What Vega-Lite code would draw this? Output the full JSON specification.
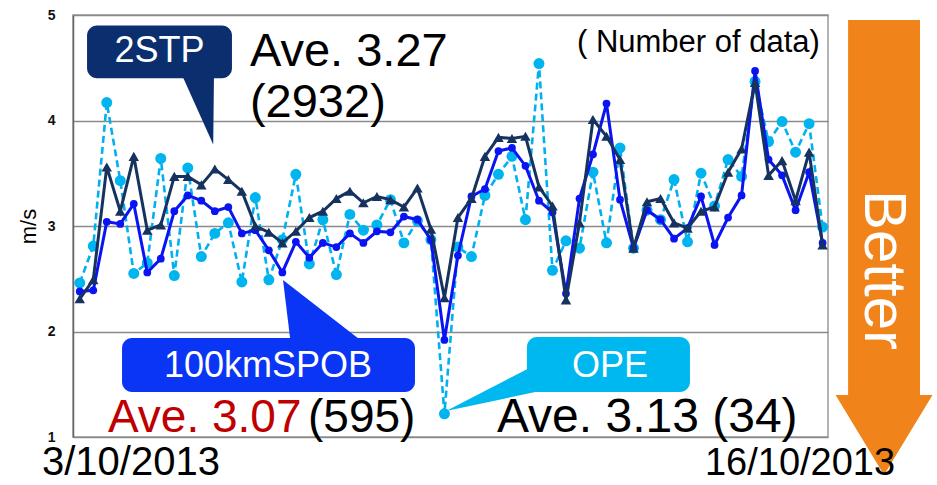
{
  "$schema": "https://vega.github.io/schema/vega-lite/v6.json",
  "width": 755,
  "height": 422,
  "autosize": "none",
  "padding": {"left": 73, "top": 15, "right": 109, "bottom": 48},
  "background": "white",
  "config": {
    "font": "Liberation Sans",
    "view": {"stroke": "#9a9a9a", "strokeWidth": 1.5}
  },
  "resolve": {"axis": {"x": "independent", "y": "independent"}},
  "datasets": {
    "wind": [
      {"step": 0, "stp": 2.31, "spob": 2.38, "ope": 2.46},
      {"step": 1, "stp": 2.49, "spob": 2.39, "ope": 2.81},
      {"step": 2, "stp": 3.56, "spob": 3.04, "ope": 4.17},
      {"step": 3, "stp": 3.14, "spob": 3.02, "ope": 3.43},
      {"step": 4, "stp": 3.66, "spob": 3.21, "ope": 2.55},
      {"step": 5, "stp": 2.96, "spob": 2.56, "ope": 2.65},
      {"step": 6, "stp": 3.01, "spob": 2.69, "ope": 3.64},
      {"step": 7, "stp": 3.47, "spob": 3.14, "ope": 2.53},
      {"step": 8, "stp": 3.47, "spob": 3.29, "ope": 3.55},
      {"step": 9, "stp": 3.39, "spob": 3.24, "ope": 2.71},
      {"step": 10, "stp": 3.54, "spob": 3.14, "ope": 2.93},
      {"step": 11, "stp": 3.44, "spob": 3.18, "ope": 3.03},
      {"step": 12, "stp": 3.33, "spob": 2.93, "ope": 2.47},
      {"step": 13, "stp": 3.00, "spob": 2.96, "ope": 3.27},
      {"step": 14, "stp": 2.94, "spob": 2.77, "ope": 2.49},
      {"step": 15, "stp": 2.84, "spob": 2.56, "ope": 2.87},
      {"step": 16, "stp": 2.95, "spob": 2.85, "ope": 3.49},
      {"step": 17, "stp": 3.08, "spob": 2.70, "ope": 2.64},
      {"step": 18, "stp": 3.14, "spob": 2.84, "ope": 3.06},
      {"step": 19, "stp": 3.26, "spob": 2.80, "ope": 2.54},
      {"step": 20, "stp": 3.33, "spob": 2.93, "ope": 3.11},
      {"step": 21, "stp": 3.22, "spob": 2.84, "ope": 2.96},
      {"step": 22, "stp": 3.28, "spob": 2.95, "ope": 3.01},
      {"step": 23, "stp": 3.25, "spob": 2.94, "ope": 3.25},
      {"step": 24, "stp": 3.18, "spob": 3.09, "ope": 2.84},
      {"step": 25, "stp": 3.36, "spob": 3.06, "ope": 3.05},
      {"step": 26, "stp": 2.97, "spob": 2.87, "ope": 2.87},
      {"step": 27, "stp": 2.32, "spob": 1.92, "ope": 1.22},
      {"step": 28, "stp": 3.08, "spob": 2.72, "ope": 2.80},
      {"step": 29, "stp": 3.26, "spob": 3.28, "ope": 2.71},
      {"step": 30, "stp": 3.66, "spob": 3.35, "ope": 3.29},
      {"step": 31, "stp": 3.84, "spob": 3.71, "ope": 3.49},
      {"step": 32, "stp": 3.83, "spob": 3.74, "ope": 3.66},
      {"step": 33, "stp": 3.85, "spob": 3.57, "ope": 3.06},
      {"step": 34, "stp": 3.37, "spob": 3.24, "ope": 4.54},
      {"step": 35, "stp": 3.19, "spob": 3.13, "ope": 2.58},
      {"step": 36, "stp": 2.30, "spob": 2.36, "ope": 2.86},
      {"step": 37, "stp": 3.03, "spob": 3.26, "ope": 2.79},
      {"step": 38, "stp": 4.01, "spob": 3.68, "ope": 3.51},
      {"step": 39, "stp": 3.85, "spob": 4.16, "ope": 2.84},
      {"step": 40, "stp": 3.63, "spob": 3.25, "ope": 3.74},
      {"step": 41, "stp": 2.79, "spob": 2.79, "ope": 2.79},
      {"step": 42, "stp": 3.23, "spob": 3.15, "ope": 3.15},
      {"step": 43, "stp": 3.26, "spob": 3.06, "ope": 3.06},
      {"step": 44, "stp": 3.03, "spob": 2.88, "ope": 3.44},
      {"step": 45, "stp": 2.98, "spob": 2.98, "ope": 2.85},
      {"step": 46, "stp": 3.14, "spob": 3.28, "ope": 3.50},
      {"step": 47, "stp": 3.18, "spob": 2.82, "ope": 3.19},
      {"step": 48, "stp": 3.51, "spob": 3.08, "ope": 3.63},
      {"step": 49, "stp": 3.73, "spob": 3.29, "ope": 3.47},
      {"step": 50, "stp": 4.36, "spob": 4.47, "ope": 4.37},
      {"step": 51, "stp": 3.48, "spob": 3.63, "ope": 3.80},
      {"step": 52, "stp": 3.62, "spob": 3.48, "ope": 3.99},
      {"step": 53, "stp": 3.24, "spob": 3.15, "ope": 3.70},
      {"step": 54, "stp": 3.70, "spob": 3.51, "ope": 3.97},
      {"step": 55, "stp": 2.82, "spob": 2.84, "ope": 2.99}
    ]
  },
  "layer": [
    {
      "data": {"name": "wind"},
      "mark": {
        "type": "line",
        "color": "#00b0f0",
        "strokeWidth": 2.6,
        "strokeDash": [7, 4],
        "point": {"filled": true, "size": 120, "color": "#00b4f0", "opacity": 1}
      },
      "encoding": {
        "x": {"field": "step", "type": "quantitative", "axis": null,
              "scale": {"domain": [-0.5, 55.4], "nice": false, "zero": false}},
        "y": {"field": "ope", "type": "quantitative",
              "scale": {"domain": [1, 5], "nice": false, "zero": false},
              "axis": {
                "title": "m/s",
                "values": [1, 2, 3, 4, 5],
                "format": "d",
                "titleFontSize": 22,
                "titleFontWeight": "normal",
                "titleColor": "#000000",
                "titleX": -45,
                "titleBaseline": "middle",
                "labelFontSize": 14,
                "labelFontWeight": "bold",
                "labelColor": "#111111",
                "labelPadding": 18,
                "labelFlush": false,
                "ticks": false,
                "domainColor": "#666666",
                "domainWidth": 1.5,
                "grid": true,
                "gridColor": "#8a8a8a",
                "gridWidth": 1.3,
                "encode": {
                  "labels": {"update": {"fontSize": {"value": 14}, "fontWeight": {"value": "bold"}}},
                  "title": {"update": {"fontSize": {"value": 22}, "fontWeight": {"value": "normal"}}}
                }
              }}
      }
    },
    {
      "data": {"name": "wind"},
      "mark": {
        "type": "line",
        "color": "#0a14f2",
        "strokeWidth": 3,
        "point": {"filled": true, "size": 60, "color": "#0a14f2", "opacity": 1}
      },
      "encoding": {
        "x": {"field": "step", "type": "quantitative", "axis": null},
        "y": {"field": "spob", "type": "quantitative", "axis": null}
      }
    },
    {
      "data": {"name": "wind"},
      "mark": {
        "type": "line",
        "color": "#16325f",
        "strokeWidth": 3,
        "point": {"filled": true, "shape": "triangle-up", "size": 110, "color": "#16325f", "opacity": 1}
      },
      "encoding": {
        "x": {"field": "step", "type": "quantitative", "axis": null},
        "y": {"field": "stp", "type": "quantitative", "axis": null}
      }
    },
    {
      "data": {"values": [{}]},
      "layer": [
        {
          "mark": {"type": "point", "shape": "M-0.158,-1 L0.158,-1 L0.158,0.648 L0.213,0.648 L0,1 L-0.213,0.648 L-0.158,0.648 Z", "filled": true, "size": 207025, "color": "#f0841a", "opacity": 1, "strokeWidth": 0},
          "encoding": {
            "x": {"datum": 59.55, "type": "quantitative", "axis": null},
            "y": {"datum": 2.796, "type": "quantitative", "axis": null}
          }
        },
        {
          "mark": {"type": "text", "text": "Better", "fontSize": 60, "color": "white", "align": "center", "baseline": "middle", "angle": 90},
          "encoding": {
            "x": {"datum": 59.47, "type": "quantitative", "axis": null},
            "y": {"datum": 2.583, "type": "quantitative", "axis": null}
          }
        },
        {
          "mark": {"type": "rect", "color": "#0b2f6e", "cornerRadius": 10},
          "encoding": {
            "x": {"datum": 0.54, "type": "quantitative", "axis": null},
            "x2": {"datum": 11.27},
            "y": {"datum": 4.90, "type": "quantitative", "axis": null},
            "y2": {"datum": 4.40}
          }
        },
        {
          "mark": {"type": "point", "shape": "M-0.5,-1.2 L0.525,-1.2 L0.5,1.025 Z", "filled": true, "size": 6400, "color": "#0b2f6e", "opacity": 1, "strokeWidth": 0},
          "encoding": {
            "x": {"datum": 8.40, "type": "quantitative", "axis": null},
            "y": {"datum": 4.16, "type": "quantitative", "axis": null}
          }
        },
        {
          "mark": {"type": "text", "text": "2STP", "fontSize": 36, "color": "white", "align": "center", "baseline": "middle"},
          "encoding": {
            "x": {"datum": 5.9, "type": "quantitative", "axis": null},
            "y": {"datum": 4.66, "type": "quantitative", "axis": null}
          }
        },
        {
          "mark": {"type": "rect", "color": "#0a35f5", "cornerRadius": 10},
          "encoding": {
            "x": {"datum": 3.13, "type": "quantitative", "axis": null},
            "x2": {"datum": 24.82},
            "y": {"datum": 1.938, "type": "quantitative", "axis": null},
            "y2": {"datum": 1.427}
          }
        },
        {
          "mark": {"type": "point", "shape": "M-1.05,-0.75 L-0.85,0.9 L1.075,0.9 Z", "filled": true, "size": 6400, "color": "#0a35f5", "opacity": 1, "strokeWidth": 0},
          "encoding": {
            "x": {"datum": 18.16, "type": "quantitative", "axis": null},
            "y": {"datum": 2.204, "type": "quantitative", "axis": null}
          }
        },
        {
          "mark": {"type": "text", "text": "100kmSPOB", "fontSize": 36, "color": "white", "align": "center", "baseline": "middle"},
          "encoding": {
            "x": {"datum": 13.94, "type": "quantitative", "axis": null},
            "y": {"datum": 1.673, "type": "quantitative", "axis": null}
          }
        },
        {
          "mark": {"type": "rect", "color": "#00b8f0", "cornerRadius": 10},
          "encoding": {
            "x": {"datum": 33.11, "type": "quantitative", "axis": null},
            "x2": {"datum": 45.18},
            "y": {"datum": 1.948, "type": "quantitative", "axis": null},
            "y2": {"datum": 1.427}
          }
        },
        {
          "mark": {"type": "point", "shape": "M-0.933,0.511 L1.05,-0.511 L1.05,0.089 Z", "filled": true, "size": 8100, "color": "#00b8f0", "opacity": 1, "strokeWidth": 0},
          "encoding": {
            "x": {"datum": 30.23, "type": "quantitative", "axis": null},
            "y": {"datum": 1.464, "type": "quantitative", "axis": null}
          }
        },
        {
          "mark": {"type": "text", "text": "OPE", "fontSize": 36, "color": "white", "align": "center", "baseline": "middle"},
          "encoding": {
            "x": {"datum": 39.26, "type": "quantitative", "axis": null},
            "y": {"datum": 1.673, "type": "quantitative", "axis": null}
          }
        },
        {
          "mark": {"type": "text", "text": "Ave. 3.27", "fontSize": 47, "color": "black", "align": "left", "baseline": "alphabetic"},
          "encoding": {
            "x": {"datum": 12.6, "type": "quantitative", "axis": null},
            "y": {"datum": 4.517, "type": "quantitative", "axis": null}
          }
        },
        {
          "mark": {"type": "text", "text": "(2932)", "fontSize": 47, "color": "black", "align": "left", "baseline": "alphabetic"},
          "encoding": {
            "x": {"datum": 12.6, "type": "quantitative", "axis": null},
            "y": {"datum": 4.03, "type": "quantitative", "axis": null}
          }
        },
        {
          "mark": {"type": "text", "text": "( Number of data)", "fontSize": 31, "color": "black", "align": "right", "baseline": "alphabetic"},
          "encoding": {
            "x": {"datum": 54.8, "type": "quantitative", "axis": null},
            "y": {"datum": 4.65, "type": "quantitative", "axis": null}
          }
        },
        {
          "mark": {"type": "text", "text": "Ave. 3.07", "fontSize": 46, "color": "#c00000", "align": "left", "baseline": "alphabetic"},
          "encoding": {
            "x": {"datum": 2.09, "type": "quantitative", "axis": null},
            "y": {"datum": 1.047, "type": "quantitative", "axis": null}
          }
        },
        {
          "mark": {"type": "text", "text": "(595)", "fontSize": 46, "color": "black", "align": "left", "baseline": "alphabetic"},
          "encoding": {
            "x": {"datum": 16.9, "type": "quantitative", "axis": null},
            "y": {"datum": 1.047, "type": "quantitative", "axis": null}
          }
        },
        {
          "mark": {"type": "text", "text": "Ave. 3.13 (34)", "fontSize": 48, "color": "black", "align": "left", "baseline": "alphabetic"},
          "encoding": {
            "x": {"datum": 30.89, "type": "quantitative", "axis": null},
            "y": {"datum": 1.047, "type": "quantitative", "axis": null}
          }
        },
        {
          "mark": {"type": "text", "text": "3/10/2013", "fontSize": 40, "color": "black", "align": "center", "baseline": "alphabetic"},
          "encoding": {
            "x": {"datum": 3.79, "type": "quantitative", "axis": null},
            "y": {"datum": 0.64, "type": "quantitative", "axis": null}
          }
        },
        {
          "mark": {"type": "text", "text": "16/10/2013", "fontSize": 38, "color": "black", "align": "center", "baseline": "alphabetic"},
          "encoding": {
            "x": {"datum": 53.33, "type": "quantitative", "axis": null},
            "y": {"datum": 0.64, "type": "quantitative", "axis": null}
          }
        }
      ]
    }
  ]
}
